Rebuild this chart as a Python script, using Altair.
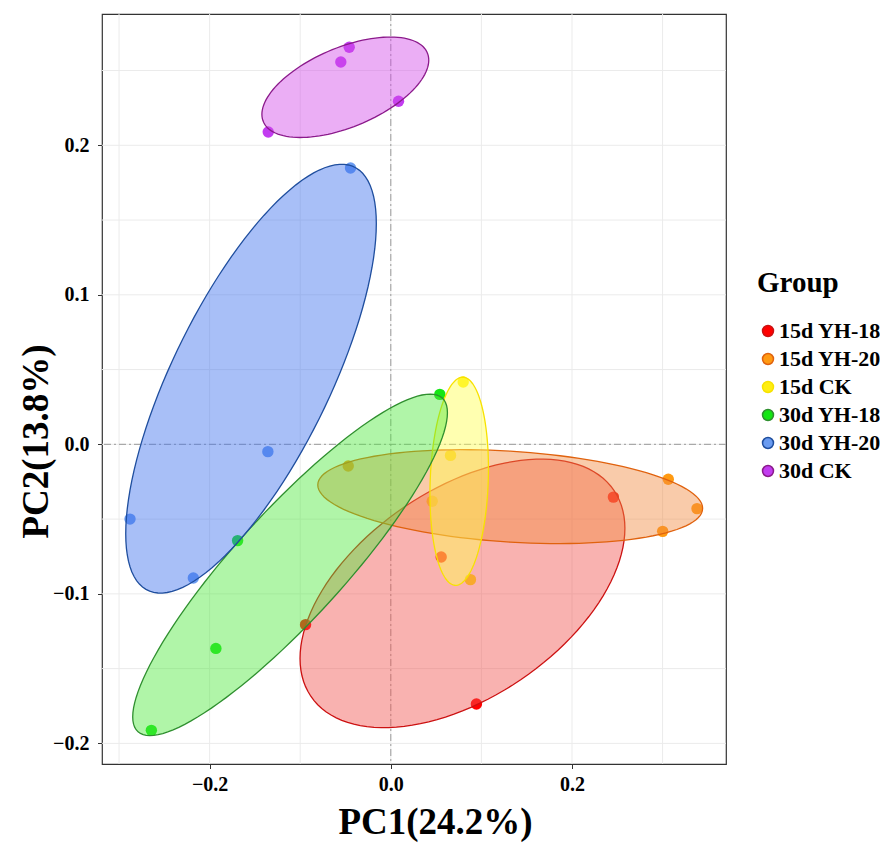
import numpy as np
import pandas as pd
import altair as alt

# ---------------- data ----------------
groups = ["15d YH-18", "15d YH-20", "15d CK", "30d YH-18", "30d YH-20", "30d CK"]

pc1_15d_yh18 = [0.2457, 0.0556, -0.0941, 0.0945]
pc2_15d_yh18 = [-0.0353, -0.0754, -0.1206, -0.1737]

pc1_15d_yh20 = [-0.0470, 0.3063, 0.3380, 0.3001]
pc2_15d_yh20 = [-0.0145, -0.0234, -0.0430, -0.0582]

pc1_15d_ck = [0.0799, 0.0659, 0.0457, 0.0879]
pc2_15d_ck = [0.0417, -0.0074, -0.0381, -0.0905]

pc1_30d_yh18 = [0.0541, -0.1691, -0.1931, -0.2643]
pc2_30d_yh18 = [0.0334, -0.0644, -0.1365, -0.1913]

pc1_30d_yh20 = [-0.0445, -0.1357, -0.2879, -0.2180]
pc2_30d_yh20 = [0.1848, -0.0049, -0.0500, -0.0894]

pc1_30d_ck = [-0.0459, -0.0552, 0.0085, -0.1353]
pc2_30d_ck = [0.2656, 0.2557, 0.2294, 0.2089]

pc1_all = [pc1_15d_yh18, pc1_15d_yh20, pc1_15d_ck, pc1_30d_yh18, pc1_30d_yh20, pc1_30d_ck]
pc2_all = [pc2_15d_yh18, pc2_15d_yh20, pc2_15d_ck, pc2_30d_yh18, pc2_30d_yh20, pc2_30d_ck]

# group ellipses (data units):
# centre, half-width, vertical offset of the right-most point, half-height
ell_cx = [0.0791, 0.1318, 0.0755, -0.1112, -0.1543, -0.0502]
ell_cy = [-0.0997, -0.0350, -0.0247, -0.0806, 0.0439, 0.2388]
ell_halfw = [0.1793, 0.2124, 0.0323, 0.1737, 0.1383, 0.0921]
ell_rdy = [0.0435, -0.0078, 0.0084, 0.1017, 0.1037, 0.0181]
ell_halfh = [0.0898, 0.0314, 0.0696, 0.1142, 0.1434, 0.0336]

x_major = [-0.2, 0.0, 0.2]
y_major = [-0.2, -0.1, 0.0, 0.1, 0.2]
x_grid = [-0.3, -0.2, -0.1, 0.0, 0.1, 0.2, 0.3]
y_grid = [-0.2, -0.15, -0.1, -0.05, 0.0, 0.05, 0.1, 0.15, 0.2, 0.25]
x_domain = [-0.3188, 0.370]
y_domain = [-0.2138, 0.2878]

point_colors = ["#FF0000", "#FF9A12", "#FFEE11", "#14E614", "#6A9BF0", "#C23CF0"]
fill_colors = ["#F25450", "#F28C42", "#FFFF4F", "#50E93E", "#3E71ED", "#D24BE9"]
stroke_colors = ["#CC1111", "#E0620E", "#F7E200", "#2F8F2F", "#1F4E9E", "#8B1A8B"]

# ---------------- tables ----------------
pts_rows, ell_rows = [], []
for g, xs, ys in zip(groups, pc1_all, pc2_all):
    for a, b in zip(xs, ys):
        pts_rows.append({"Group": g, "PC1": a, "PC2": b})

n_seg = 120
ang = np.arange(n_seg) * 2 * np.pi / n_seg
for g, cx, cy, A, C, H in zip(groups, ell_cx, ell_cy, ell_halfw, ell_rdy, ell_halfh):
    D = np.sqrt(max(H * H - C * C, 0.0))
    ex = cx + A * np.cos(ang)
    ey = cy + C * np.cos(ang) + D * np.sin(ang)
    for i, (a, b) in enumerate(zip(ex, ey)):
        ell_rows.append({"Group": g, "PC1": a, "PC2": b, "idx": i})

pts = pd.DataFrame(pts_rows)
ell = pd.DataFrame(ell_rows)

FONT = "Liberation Serif"
xs_scale = alt.Scale(domain=x_domain, nice=False, zero=False)
ys_scale = alt.Scale(domain=y_domain, nice=False, zero=False)
ax_x = alt.Axis(values=x_major, format=".1f", title="PC1(24.2%)", grid=False,
                titleX=333, titleY=58, titleBaseline="middle", titleAlign="center",
                labelPadding=6, tickSize=4.5)
ax_y = alt.Axis(values=y_major, format=".1f", title="PC2(13.8%)", grid=False,
                titleX=-66, titleY=427, titleBaseline="middle", titleAlign="center",
                labelPadding=8.5, tickSize=4.5)

grid_x = alt.Chart(pd.DataFrame({"v": x_grid})).mark_rule(color="#EBEBEB", strokeWidth=1).encode(
    x=alt.X("v:Q", scale=xs_scale, axis=ax_x))
grid_y = alt.Chart(pd.DataFrame({"v": y_grid})).mark_rule(color="#EBEBEB", strokeWidth=1).encode(
    y=alt.Y("v:Q", scale=ys_scale, axis=ax_y))

zero_x = alt.Chart(pd.DataFrame({"v": [0.0]})).mark_rule(
    color="#9A9A9A", strokeWidth=1, strokeDash=[7, 3, 2, 3]).encode(x=alt.X("v:Q", scale=xs_scale, axis=ax_x))
zero_y = alt.Chart(pd.DataFrame({"v": [0.0]})).mark_rule(
    color="#9A9A9A", strokeWidth=1, strokeDash=[7, 3, 2, 3]).encode(y=alt.Y("v:Q", scale=ys_scale, axis=ax_y))

points = alt.Chart(pts).mark_circle(size=130, opacity=1).encode(
    x=alt.X("PC1:Q", scale=xs_scale, axis=ax_x),
    y=alt.Y("PC2:Q", scale=ys_scale, axis=ax_y),
    color=alt.Color("Group:N", scale=alt.Scale(domain=groups, range=point_colors),
                    legend=alt.Legend(title="Group", orient="none", legendX=655, legendY=255,
                                      symbolType="circle", symbolSize=120, labelOffset=0,
                                      rowPadding=6, titlePadding=22, padding=0)),
)

ellipses = alt.Chart(ell).mark_line(interpolate="linear-closed", strokeWidth=1.3, fillOpacity=0.45).encode(
    x=alt.X("PC1:Q", scale=xs_scale, axis=ax_x),
    y=alt.Y("PC2:Q", scale=ys_scale, axis=ax_y),
    fill=alt.Fill("Group:N", scale=alt.Scale(domain=groups, range=fill_colors), legend=None),
    stroke=alt.Stroke("Group:N", scale=alt.Scale(domain=groups, range=stroke_colors), legend=None),
    order=alt.Order("idx:Q"),
)

chart = alt.layer(grid_x, grid_y, zero_x, zero_y, points, ellipses).properties(
    width=624, height=750,
    autosize=alt.AutoSizeParams(type="none"),
    padding={"left": 94, "top": 6, "right": 154, "bottom": 79},
).configure_view(
    stroke="#333333", strokeWidth=1.2
).configure_axis(
    labelFont=FONT, labelFontSize=20, labelFontWeight="bold", labelColor="#000000",
    titleFont=FONT, titleFontSize=37, titleFontWeight="bold", titleColor="#000000",
    tickColor="#333333", domain=False, labelFlush=False,
).configure_legend(
    titleFont=FONT, titleFontSize=29, titleFontWeight="bold", titleColor="#000000",
    labelFont=FONT, labelFontSize=22, labelFontWeight="bold", labelColor="#000000",
)

chart.save("out.html", embed_options={"renderer": "svg", "actions": False})
